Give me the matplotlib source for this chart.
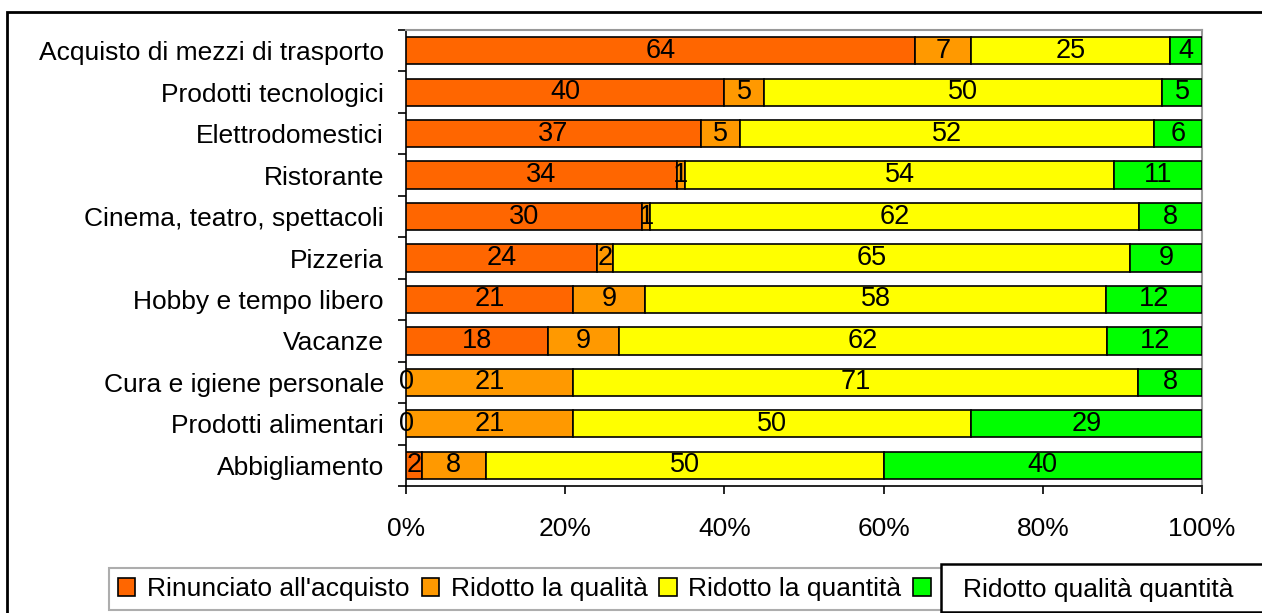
import matplotlib.pyplot as plt
import matplotlib.patches as mpatches
import numpy as np

plt.rcParams['font.family'] = ['Liberation Sans', 'DejaVu Sans']

categorie = ['Acquisto di mezzi di trasporto', 'Prodotti tecnologici', 'Elettrodomestici',
             'Ristorante', 'Cinema, teatro, spettacoli', 'Pizzeria', 'Hobby e tempo libero',
             'Vacanze', 'Cura e igiene personale', 'Prodotti alimentari', 'Abbigliamento']
rinunciato = [64, 40, 37, 34, 30, 24, 21, 18, 0, 0, 2]
ridotto_qualita = [7, 5, 5, 1, 1, 2, 9, 9, 21, 21, 8]
ridotto_quantita = [25, 50, 52, 54, 62, 65, 58, 62, 71, 50, 50]
ridotto_entrambi = [4, 5, 6, 11, 8, 9, 12, 12, 8, 29, 40]

serie = [rinunciato, ridotto_qualita, ridotto_quantita, ridotto_entrambi]
nomi = ["Rinunciato all'acquisto", 'Ridotto la qualità', 'Ridotto la quantità',
        'Ridotto qualità quantità']
colori = ['#FF6600', '#FF9900', '#FFFF00', '#00FF00']

FS = 19
W, H = 1262, 613
fig = plt.figure(figsize=(W / 100, H / 100), dpi=100)
ax = fig.add_axes([406 / W, 1 - 486 / H, (1202 - 406) / W, (486 - 30) / H])

dati = np.array(serie, dtype=float)
tot = dati.sum(axis=0)
perc = dati / tot * 100
y = np.arange(len(categorie))
left = np.zeros(len(categorie))
barre = []
for k in range(len(serie)):
    b = ax.barh(y, perc[k], left=left, height=0.66, color=colori[k],
                edgecolor='black', linewidth=1.2, zorder=3)
    barre.append(b)
    for i in range(len(categorie)):
        ax.text(left[i] + perc[k][i] / 2, y[i], str(serie[k][i]),
                ha='center', va='center', fontsize=FS + 0.5, zorder=4)
    left += perc[k]

ax.set_xlim(0, 100)
ax.set_ylim(len(categorie) - 0.5, -0.5)
ax.set_yticks(y)
ax.set_yticklabels(categorie, fontsize=FS)
ax.set_yticks(np.arange(len(categorie) + 1) - 0.5, minor=True)
ax.tick_params(axis='y', which='major', length=0, pad=16)
ax.tick_params(axis='y', which='minor', length=6, width=1.2, direction='out')
ax.set_xticks([0, 20, 40, 60, 80, 100])
ax.set_xticklabels(['0%', '20%', '40%', '60%', '80%', '100%'], fontsize=FS)
ax.tick_params(axis='x', length=6, width=1.2, direction='out', pad=16)
ax.spines['left'].set_linewidth(1.2)
ax.spines['bottom'].set_linewidth(1.2)
ax.spines['top'].set_color('#999999')
ax.spines['right'].set_color('#999999')
ax.spines['top'].set_linewidth(1.5)
ax.spines['right'].set_linewidth(1.5)

# cornice esterna
fig.patches.append(mpatches.Rectangle((7 / W, -0.1), 1.2, 1 - 12 / H + 0.1,
                                      transform=fig.transFigure, fill=False,
                                      edgecolor='black', linewidth=2))

# legenda: l'ultima voce resta sotto il riquadro bianco
leg = fig.legend(barre, nomi[:3] + [''], loc='upper left',
                 bbox_to_anchor=(109 / W, 1 - 568 / H), ncol=4,
                 fontsize=FS, frameon=True, fancybox=False, handlelength=0.65,
                 handleheight=0.65, handletextpad=0.45, columnspacing=0.45,
                 borderpad=0.35, borderaxespad=0)
leg.get_frame().set_edgecolor('#999999')
leg.get_frame().set_linewidth(1.5)

box = mpatches.Rectangle((941 / W, 1 - 612 / H), 0.3, 48 / H, transform=fig.transFigure,
                         facecolor='white', edgecolor='black', linewidth=1.8, zorder=10)
fig.patches.append(box)
fig.text(963 / W, 1 - 590 / H, nomi[3], fontsize=FS, va='center', ha='left', zorder=11)

fig.savefig('out.png', dpi=100)
